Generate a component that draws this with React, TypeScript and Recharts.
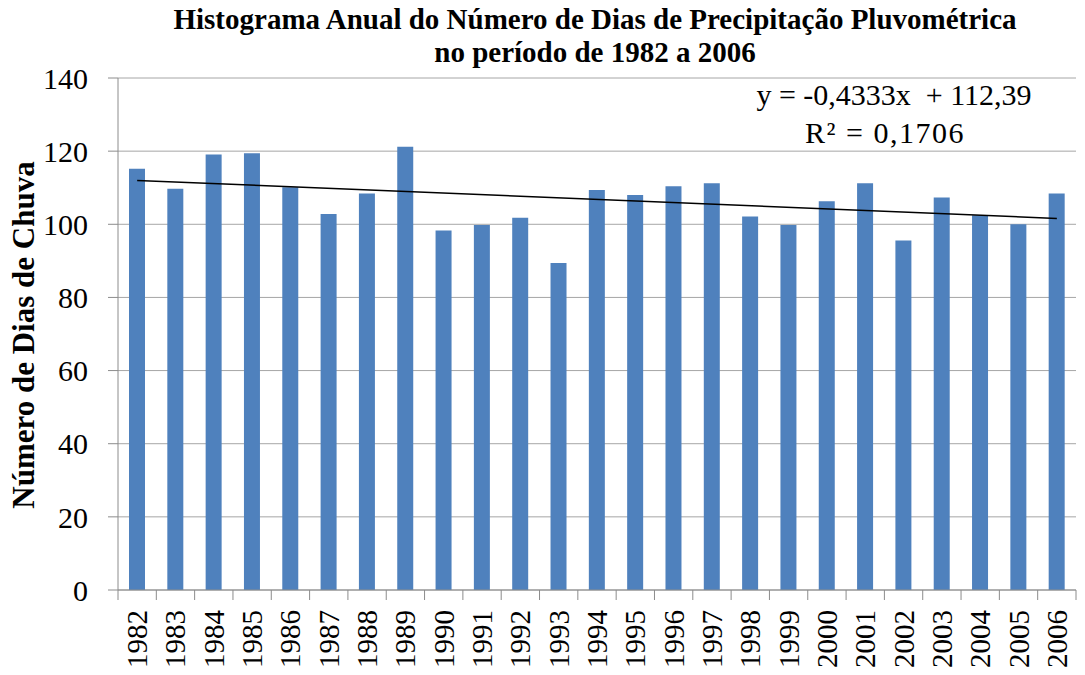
import { ComposedChart, Bar, Line, XAxis, YAxis, CartesianGrid } from 'recharts'

const years = [
  '1982', '1983', '1984', '1985', '1986', '1987', '1988', '1989', '1990', '1991', '1992', '1993', '1994',
  '1995', '1996', '1997', '1998', '1999', '2000', '2001', '2002', '2003', '2004', '2005', '2006',
]
const rainDays = [
  115.2, 109.7, 119.1, 119.4, 110.1, 102.8, 108.4, 121.2, 98.3, 99.8, 101.8, 89.4, 109.4,
  108.0, 110.4, 111.2, 102.1, 99.8, 106.3, 111.2, 95.6, 107.3, 102.5, 100.0, 108.4,
]
// trend line values read at the first and last year
const trendEnds = [112.0, 101.6]
const yTicks = [0, 20, 40, 60, 80, 100, 120, 140]

const titleLines = [
  'Histograma Anual do Número de Dias de Precipitação Pluvométrica',
  'no período de 1982 a 2006',
]
const equationText = 'y = -0,4333x  + 112,39'
const r2Text = 'R² = 0,1706'

const data = years.map((year, i) => ({
  year,
  days: rainDays[i],
  trend: i === 0 ? trendEnds[0] : i === years.length - 1 ? trendEnds[1] : null,
}))

const AXIS = '#8c8c8c'
const FONT = '"Liberation Serif", "Times New Roman", serif'

function YearTick(props: any) {
  const { x, y, payload, index } = props
  const half = payload?.offset ?? 19.16
  const last = index === years.length - 1
  return (
    <g>
      <line x1={x - half} x2={x - half} y1={y - 20} y2={y - 10} stroke={AXIS} />
      {last && <line x1={x + half} x2={x + half} y1={y - 20} y2={y - 10} stroke={AXIS} />}
      <text
        x={x}
        y={y}
        transform={`rotate(-90, ${x}, ${y})`}
        textAnchor="end"
        dominantBaseline="central"
        fontSize={29}
        fill="#000"
        fontFamily={FONT}
      >
        {payload.value}
      </text>
    </g>
  )
}

function renderYLabel(props: any) {
  const vb = props.viewBox || { y: 78, height: 512 }
  const cy = vb.y + vb.height / 2 + 1
  return (
    <text
      x={23}
      y={cy}
      transform={`rotate(-90, 23, ${cy})`}
      textAnchor="middle"
      dominantBaseline="central"
      fontSize={31}
      fontWeight="bold"
      fill="#000"
      fontFamily={FONT}
    >
      Número de Dias de Chuva
    </text>
  )
}

export default function App() {
  return (
    <div style={{ position: 'absolute', left: 0, top: 0, width: 1085, height: 675, background: '#fff', fontFamily: FONT }}>
      <ComposedChart width={1085} height={675} data={data} margin={{ top: 78, right: 9, bottom: 0, left: 0 }}>
        <CartesianGrid vertical={false} stroke="#a6a6a6" />
        <XAxis
          dataKey="year"
          interval={0}
          height={85}
          axisLine={{ stroke: AXIS }}
          tickLine={false}
          tickSize={10}
          tickMargin={10}
          tick={<YearTick />}
        />
        <YAxis
          domain={[0, 140]}
          ticks={yTicks}
          width={118}
          axisLine={{ stroke: AXIS }}
          tickLine={{ stroke: AXIS }}
          tickSize={10}
          tickMargin={20}
          tick={{ fontSize: 30, fill: '#000', fontFamily: FONT }}
          label={renderYLabel}
        />
        <Bar dataKey="days" fill="#4f81bd" barSize={16} isAnimationActive={false} />
        <Line
          dataKey="trend"
          stroke="#000"
          strokeWidth={1.5}
          dot={false}
          connectNulls
          isAnimationActive={false}
        />
      </ComposedChart>
      <svg width={1085} height={675} style={{ position: 'absolute', left: 0, top: 0, pointerEvents: 'none' }}>
        <text x={595} y={29} textAnchor="middle" fontSize={29} fontWeight="bold" fontFamily={FONT} fill="#000">
          {titleLines[0]}
        </text>
        <text x={595} y={62} textAnchor="middle" fontSize={29} fontWeight="bold" fontFamily={FONT} fill="#000">
          {titleLines[1]}
        </text>
        <text x={894} y={105} textAnchor="middle" fontSize={30} fontFamily={FONT} fill="#000" style={{ whiteSpace: 'pre' }}>
          {equationText}
        </text>
        <text x={885} y={143} textAnchor="middle" fontSize={30} fontFamily={FONT} fill="#000" letterSpacing={1.5}>
          {r2Text}
        </text>
      </svg>
    </div>
  )
}
